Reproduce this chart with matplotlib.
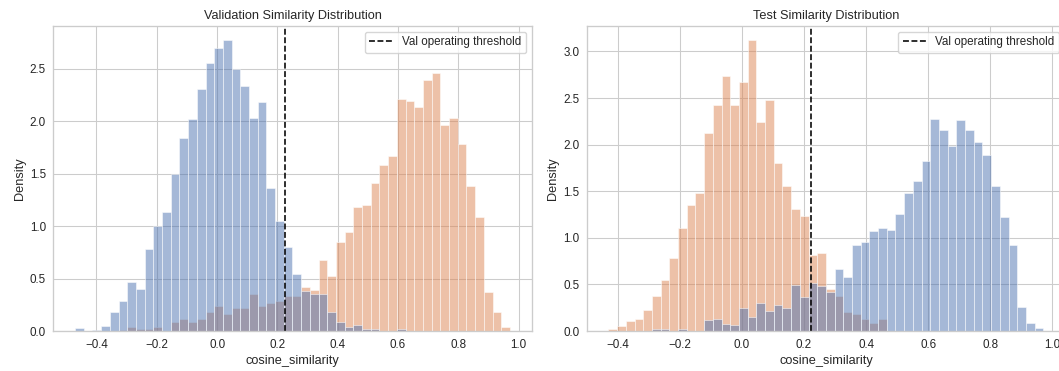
import numpy as np
import matplotlib
matplotlib.use("Agg")
import matplotlib.pyplot as plt

# ---------------- data ----------------
n_bins = 50
val_range = (-0.471, 0.971)
test_range = (-0.430, 0.971)
threshold = 0.224

val_blue = [0.032, 0.0, 0.012, 0.05, 0.18, 0.286, 0.47, 0.40, 0.785, 1.0,
            1.135, 1.50, 1.84, 2.02, 2.31, 2.55, 2.70, 2.77, 2.50, 2.33,
            2.03, 2.18, 1.36, 1.05, 0.80, 0.547, 0.38, 0.35, 0.35, 0.18,
            0.09, 0.04, 0.06, 0.02, 0.02, 0.0, 0.0, 0.02, 0.0, 0.0,
            0.0, 0.0, 0.0, 0.0, 0.0, 0.0, 0.0, 0.0, 0.0, 0.0]
val_orange = [0.0, 0.0, 0.0, 0.0, 0.0, 0.013, 0.035, 0.016, 0.016, 0.035,
              0.004, 0.09, 0.11, 0.09, 0.11, 0.18, 0.24, 0.165, 0.22, 0.215,
              0.35, 0.24, 0.27, 0.29, 0.33, 0.33, 0.42, 0.39, 0.68, 0.52,
              0.85, 0.94, 1.18, 1.20, 1.41, 1.58, 1.67, 2.21, 2.19, 2.13,
              2.39, 2.46, 1.96, 2.03, 1.78, 1.38, 1.09, 0.37, 0.18, 0.04]

test_orange = [0.018, 0.054, 0.107, 0.125, 0.22, 0.376, 0.544, 0.78, 1.10, 1.35,
               1.48, 2.12, 2.42, 2.74, 2.42, 2.67, 3.12, 2.24, 2.48, 1.80,
               1.56, 1.31, 1.235, 0.82, 0.84, 0.45, 0.375, 0.20, 0.18, 0.125,
               0.09, 0.125, 0.0, 0.0, 0.0, 0.0, 0.0, 0.0, 0.0, 0.0,
               0.0, 0.0, 0.0, 0.0, 0.0, 0.0, 0.0, 0.0, 0.0, 0.0]
test_blue = [0.0, 0.0, 0.0, 0.0, 0.0, 0.018, 0.018, 0.0, 0.018, 0.0,
             0.0, 0.115, 0.13, 0.08, 0.06, 0.25, 0.15, 0.30, 0.21, 0.28,
             0.25, 0.49, 0.36, 0.52, 0.48, 0.42, 0.67, 0.58, 0.92, 0.955,
             1.07, 1.11, 1.085, 1.26, 1.48, 1.61, 1.82, 2.27, 2.16, 1.99,
             2.26, 2.16, 2.03, 1.89, 1.56, 1.22, 0.92, 0.26, 0.09, 0.036]

titles = ["Validation Similarity Distribution", "Test Similarity Distribution"]
xlabel = "cosine_similarity"
ylabel = "Density"
legend_label = "Val operating threshold"

# ---------------- style ----------------
BLUE = "#4c72b0"
ORANGE = "#dd8452"
TEXT = "#262626"
GRID = "#cccccc"
plt.rcParams["font.family"] = ["Liberation Sans", "DejaVu Sans"]
plt.rcParams["axes.unicode_minus"] = True

W, H = 1059, 371
fig = plt.figure(figsize=(W / 100, H / 100), dpi=100)

ax_w = 478.4
ax_h = 305.3
positions = [(53.3, 40.0), (586.7, 40.0)]

panels = [
    (val_range, val_orange, val_blue),
    (test_range, test_orange, test_blue),
]

for (x0, y0), title, (rng, orange, blue) in zip(positions, titles, panels):
    ax = fig.add_axes([x0 / W, y0 / H, ax_w / W, ax_h / H])
    edges = np.linspace(rng[0], rng[1], n_bins + 1)
    width = edges[1] - edges[0]
    ax.bar(edges[:-1], orange, width=width, align="edge",
           facecolor=ORANGE, alpha=0.5, edgecolor="white", linewidth=0.7)
    ax.bar(edges[:-1], blue, width=width, align="edge",
           facecolor=BLUE, alpha=0.5, edgecolor="white", linewidth=0.7)
    ax.axvline(threshold, color="black", linestyle="--", linewidth=1.15,
               label=legend_label)
    ax.set_axisbelow(True)
    ax.grid(True, color=GRID, linewidth=0.77)
    for sp in ax.spines.values():
        sp.set_color(GRID)
        sp.set_linewidth(0.96)
    ax.tick_params(length=0, pad=5.4, labelsize=8.4, colors=TEXT)
    ax.set_xticks([-0.4, -0.2, 0.0, 0.2, 0.4, 0.6, 0.8, 1.0])
    ax.set_title(title, fontsize=9.2, color=TEXT, pad=4.6)
    ax.set_xlabel(xlabel, fontsize=9.2, color=TEXT, labelpad=3)
    ax.set_ylabel(ylabel, fontsize=9.2, color=TEXT, labelpad=3)
    leg = ax.legend(loc="upper right", fontsize=8.4, frameon=True)
    leg.get_frame().set_edgecolor(GRID)
    for t in leg.get_texts():
        t.set_color(TEXT)

fig.savefig("out.png", dpi=100)
